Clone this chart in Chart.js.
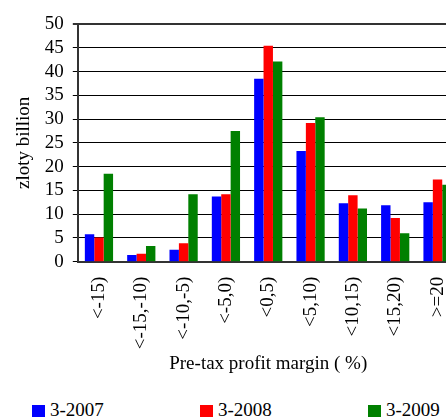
<!DOCTYPE html>
<html>
<head>
<meta charset="utf-8">
<script src="https://cdn.jsdelivr.net/npm/chart.js@4.4.1/dist/chart.umd.min.js"></script>
<style>
  html, body { margin: 0; padding: 0; background: #fff; overflow: hidden; }
  #wrap { position: relative; width: 446px; height: 418px; overflow: hidden; }
  #box { position: absolute; left: 0; top: 0; width: 476px; height: 375px; }
  #legend { position: absolute; top: 399px; left: 0; width: 446px; font-family: "Liberation Serif", serif; font-size: 19px; color: #000; }
  #legend span.item { position: absolute; white-space: nowrap; }
  #legend span.sw { display: inline-block; width: 13px; height: 12px; margin-right: 5px; vertical-align: -1px; }
</style>
</head>
<body>
<div id="wrap">
  <div id="box"><canvas id="chart"></canvas></div>
  <div id="legend"></div>
</div>
<script>
const categories = ["<-15)", "<-15,-10)", "<-10,-5)", "<-5,0)", "<0,5)", "<5,10)", "<10,15)", "<15,20)", ">=20"];
const seriesNames = ["3-2007", "3-2008", "3-2009"];
const seriesColors = ["#0000ff", "#ff0000", "#008000"];
const values2007 = [5.8, 1.4, 2.5, 13.7, 38.5, 23.3, 12.3, 11.9, 12.5];
const values2008 = [5.1, 1.7, 3.9, 14.2, 45.4, 29.2, 14.0, 9.2, 17.3];
const values2009 = [18.5, 3.3, 14.2, 27.5, 42.1, 30.4, 11.2, 6.0, 16.2];
const yTicksMax = 50;

const serif = "Liberation Serif";

function draw() {
  const ctx = document.getElementById("chart").getContext("2d");
  new Chart(ctx, {
    type: "bar",
    data: {
      labels: categories,
      datasets: [values2007, values2008, values2009].map((vals, i) => ({
        label: seriesNames[i],
        data: vals,
        backgroundColor: seriesColors[i],
        borderWidth: 0,
        barPercentage: 1,
        categoryPercentage: 0.667
      }))
    },
    options: {
      responsive: true,
      maintainAspectRatio: false,
      animation: false,
      layout: { padding: { left: 13, top: 24, right: 12, bottom: 0 } },
      plugins: { legend: { display: false }, tooltip: { enabled: false } },
      scales: {
        x: {
          grid: { display: false, drawTicks: false },
          border: { display: true, color: "#333", width: 2 },
          ticks: { autoSkip: false, color: "#000", font: { family: serif, size: 19 }, minRotation: 90, maxRotation: 90, padding: 15 },
          title: { display: true, text: "Pre-tax profit margin ( %)", color: "#000", font: { family: serif, size: 19 }, padding: { top: -12, bottom: 0 } }
        },
        y: {
          min: 0,
          max: yTicksMax,
          ticks: { autoSkip: false, stepSize: 5, color: "#000", font: { family: serif, size: 19 }, padding: 9 },
          grid: {
            color: (c) => (c.tick && c.tick.value === yTicksMax ? "#333" : "#000"),
            lineWidth: (c) => (c.tick && c.tick.value === yTicksMax ? 2 : 1),
            tickLength: 5
          },
          border: { display: true, color: "#333", width: 2 },
          title: { display: true, text: "zloty billion", color: "#000", font: { family: serif, size: 19 }, padding: { top: 0, bottom: 0 } }
        }
      }
    }
  });
}

// legend below the chart, spread across the width
const legendX = [32, 200, 368];
const legend = document.getElementById("legend");
seriesNames.forEach((name, i) => {
  const item = document.createElement("span");
  item.className = "item";
  item.style.left = legendX[i] + "px";
  item.innerHTML = `<span class="sw" style="background:${seriesColors[i]}"></span>${name}`;
  legend.appendChild(item);
});

document.fonts.load('19px "Liberation Serif"').then(draw, draw);
</script>
</body>
</html>
